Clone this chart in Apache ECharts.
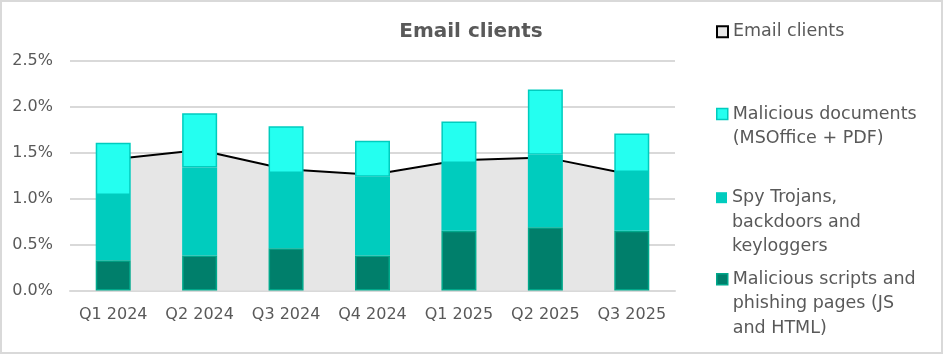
<!DOCTYPE html>
<html lang="en">
<head>
    <meta charset="utf-8">
    <title>Email clients</title>
    <script type="text/javascript" src="https://cdn.jsdelivr.net/npm/echarts@6/dist/echarts.min.js"></script>
    <style>
        html, body { margin: 0; padding: 0; background: #fff; }
        #wrap { position: relative; width: 943px; height: 354px; }
        #chart { width: 943px; height: 354px; }
        #frame { position: absolute; left: 0; top: 0; width: 943px; height: 354px;
                 box-sizing: border-box; border: 2px solid #D9D9D9; pointer-events: none; }
    </style>
</head>
<body>
<div id="wrap">
    <div id="chart"></div>
    <div id="frame"></div>
</div>
<script type="text/javascript">
    // 数据
    var categories = ['Q1 2024', 'Q2 2024', 'Q3 2024', 'Q4 2024', 'Q1 2025', 'Q2 2025', 'Q3 2025'];
    var emailClients = [1.43, 1.53, 1.32, 1.26, 1.42, 1.45, 1.26];
    var maliciousDocs = [0.57, 0.59, 0.51, 0.39, 0.45, 0.71, 0.42];
    var spyTrojans = [0.71, 0.96, 0.82, 0.86, 0.74, 0.79, 0.64];
    var maliciousScripts = [0.33, 0.38, 0.46, 0.38, 0.65, 0.69, 0.65];
    var yTicks = [0, 0.5, 1.0, 1.5, 2.0, 2.5];

    var names = {
        email: 'Email clients',
        docs: 'Malicious documents\n(MSOffice + PDF)',
        spy: 'Spy Trojans,\nbackdoors and\nkeyloggers',
        scripts: 'Malicious scripts and\nphishing pages (JS\nand HTML)'
    };

    var fontFamily = '"DejaVu Sans", sans-serif';
    var textColor = '#595959';
    var lh = 24.5;

    // 单项图例：前面补空行，让第一行和图标对齐
    function legendItem(name, iconY, style) {
        var n = name.split('\n').length;
        return {
            left: 716,
            top: iconY - (2 * n - 1) * lh / 2,
            orient: 'vertical',
            itemWidth: 11,
            itemHeight: 11,
            itemGap: 0,
            padding: 0,
            selectedMode: false,
            data: [{ name: name, icon: 'rect', itemStyle: style }],
            formatter: function (s) { return new Array(n).join('\n') + s; },
            textStyle: {
                fontFamily: fontFamily,
                fontSize: 17.5,
                color: textColor,
                lineHeight: lh
            }
        };
    }

    var chart = echarts.init(document.getElementById('chart'));
    var option = {
        animation: false,
        title: {
            text: 'Email clients',
            left: 466,
            top: 17,
            textAlign: 'center',
            textStyle: { fontFamily: fontFamily, fontSize: 20, fontWeight: 'bold', color: textColor }
        },
        legend: [
            legendItem(names.email, 31.7, { color: '#E6E6E6', borderColor: '#000', borderWidth: 2 }),
            legendItem(names.docs, 114, { color: '#24FFF0', borderColor: '#00CCBE', borderWidth: 1.5 }),
            legendItem(names.spy, 197.7, { color: '#00CCBE', borderWidth: 0 }),
            legendItem(names.scripts, 279.3, { color: '#007F6B', borderColor: '#00A88B', borderWidth: 1.5 })
        ],
        grid: { left: 70, right: 268, top: 61, bottom: 63.5 },
        xAxis: {
            type: 'category',
            data: categories,
            axisLine: { show: true, lineStyle: { color: '#D9D9D9', width: 2 } },
            axisTick: { show: false },
            axisLabel: { interval: 0, fontFamily: fontFamily, fontSize: 16, color: textColor, margin: 16 }
        },
        yAxis: {
            type: 'value',
            min: yTicks[0],
            max: yTicks[yTicks.length - 1],
            interval: 0.5,
            axisLine: { show: false },
            axisTick: { show: false },
            splitLine: { lineStyle: { color: '#D9D9D9', width: 2 } },
            axisLabel: {
                fontFamily: fontFamily, fontSize: 16, color: textColor, margin: 17,
                formatter: function (v) { return v.toFixed(1) + '%'; }
            }
        },
        series: [
            {
                name: names.email,
                type: 'line',
                data: emailClients,
                symbol: 'none',
                z: 1,
                lineStyle: { color: '#000', width: 2 },
                itemStyle: { color: '#E6E6E6', borderColor: '#000' },
                areaStyle: { color: '#E6E6E6', opacity: 1 }
            },
            {
                name: names.scripts,
                type: 'bar',
                stack: 'total',
                data: maliciousScripts,
                barWidth: 35,
                z: 3,
                itemStyle: { color: '#007F6B', borderColor: '#00A88B', borderWidth: 1.5 }
            },
            {
                name: names.spy,
                type: 'bar',
                stack: 'total',
                data: spyTrojans,
                barWidth: 35,
                z: 3,
                itemStyle: { color: '#00CCBE' }
            },
            {
                name: names.docs,
                type: 'bar',
                stack: 'total',
                data: maliciousDocs,
                barWidth: 35,
                z: 3,
                itemStyle: { color: '#24FFF0', borderColor: '#00CCBE', borderWidth: 1.5 }
            }
        ]
    };
    chart.setOption(option);
</script>
</body>
</html>
